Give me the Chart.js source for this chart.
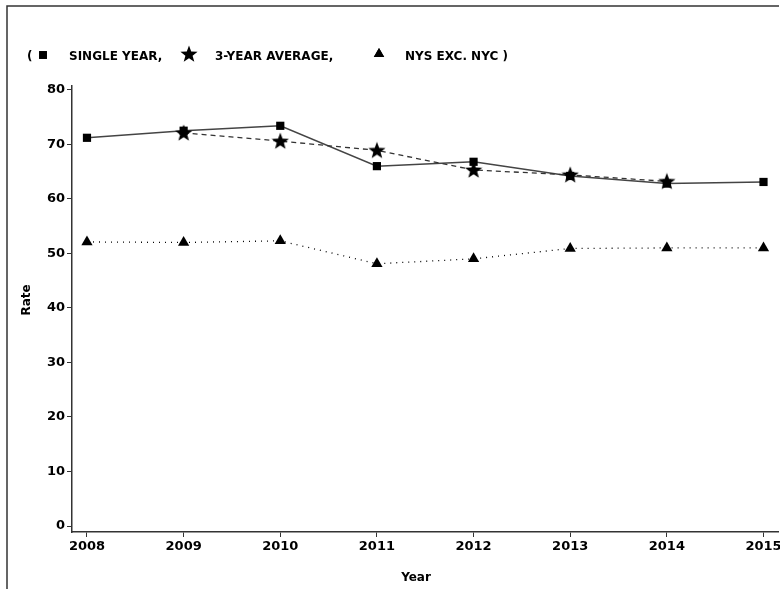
<!DOCTYPE html>
<html>
<head>
<meta charset="utf-8">
<script src="https://cdn.jsdelivr.net/npm/chart.js@4"></script>
<style>
    html, body { margin: 0; padding: 0; background: #fff; }
    #wrap { position: relative; width: 780px; height: 589px; }
</style>
</head>
<body>
<div id="wrap"><canvas id="rateChart" width="780" height="589"></canvas></div>
<script>
const years = [2008, 2009, 2010, 2011, 2012, 2013, 2014, 2015];
const singleYear = [71.2, 72.5, 73.4, 66.0, 66.8, 64.2, 62.8, 63.1];
const threeYearAvg = [null, 72.1, 70.6, 68.9, 65.3, 64.4, 63.2, null];
const nysExcNyc = [52.1, 52.0, 52.3, 48.1, 49.0, 50.9, 51.0, 51.0];
const yTicks = [0, 10, 20, 30, 40, 50, 60, 70, 80];

const legendItems = ["SINGLE YEAR,", "3-YEAR AVERAGE,", "NYS EXC. NYC )"];

// filled five point star, Chart.js "star" is only a stroked asterisk
function makeStar(size) {
    const c = document.createElement("canvas");
    c.width = size;
    c.height = size;
    const g = c.getContext("2d");
    const cx = size / 2, cy = size / 2 + 0.5;
    const outer = size / 2, inner = outer * 0.42;
    g.beginPath();
    for (let i = 0; i < 10; i++) {
        const r = i % 2 === 0 ? outer : inner;
        const a = -Math.PI / 2 + i * Math.PI / 5;
        const px = cx + r * Math.cos(a), py = cy + r * Math.sin(a);
        if (i === 0) g.moveTo(px, py); else g.lineTo(px, py);
    }
    g.closePath();
    g.fillStyle = "#000";
    g.fill();
    return c;
}
const starImg = makeStar(18);

const toPoints = arr => years.map((y, i) => ({ x: y, y: arr[i] }));

const framePlugin = {
    id: "frame",
    beforeDraw(chart) {
        const ctx = chart.ctx;
        ctx.save();
        ctx.fillStyle = "#fff";
        ctx.fillRect(0, 0, chart.width, chart.height);
        ctx.strokeStyle = "#333";
        ctx.lineWidth = 1.5;
        ctx.beginPath();
        ctx.moveTo(7, 589);
        ctx.lineTo(7, 6);
        ctx.lineTo(779, 6);
        ctx.stroke();
        ctx.restore();
    },
    afterDraw(chart) {
        const ctx = chart.ctx;
        ctx.save();
        ctx.fillStyle = "#000";
        ctx.textBaseline = "middle";

        // legend line
        const ly = 57;
        ctx.font = "bold 12px 'DejaVu Sans'";
        ctx.textAlign = "left";
        ctx.fillText("(", 27, ly);
        ctx.beginPath();
        Chart.helpers.drawPoint(ctx, { pointStyle: "rect", radius: 5.5, rotation: 0 }, 43, ly - 2);
        ctx.fill();
        ctx.fillText(legendItems[0], 69, ly);
        ctx.drawImage(starImg, 180, ly - 12);
        ctx.fillText(legendItems[1], 215, ly);
        ctx.beginPath();
        Chart.helpers.drawPoint(ctx, { pointStyle: "triangle", radius: 6, rotation: 0 }, 379, ly - 3);
        ctx.fill();
        ctx.fillText(legendItems[2], 405, ly);

        // axis titles
        ctx.font = "bold 12px 'DejaVu Sans'";
        ctx.textAlign = "center";
        ctx.fillText("Year", 416, 578);
        ctx.translate(27, 300);
        ctx.rotate(-Math.PI / 2);
        ctx.fillText("Rate", 0, 0);
        ctx.restore();
    }
};

new Chart(document.getElementById("rateChart").getContext("2d"), {
    type: "line",
    data: {
        datasets: [
            {
                label: "3-YEAR AVERAGE",
                data: toPoints(threeYearAvg),
                borderColor: "#333",
                borderWidth: 1.3,
                borderDash: [5, 4],
                pointStyle: starImg,
                pointRadius: 8,
                spanGaps: false,
                order: 1
            },
            {
                label: "SINGLE YEAR",
                data: toPoints(singleYear),
                borderColor: "#444",
                borderWidth: 1.5,
                pointStyle: "rect",
                pointRadius: 5.8,
                pointBackgroundColor: "#000",
                pointBorderColor: "#000",
                pointBorderWidth: 0,
                order: 2
            },
            {
                label: "NYS EXC. NYC",
                data: toPoints(nysExcNyc),
                borderColor: "#000",
                borderWidth: 1.3,
                borderDash: [1, 5],
                pointStyle: "triangle",
                pointRadius: 6.5,
                pointBackgroundColor: "#000",
                pointBorderColor: "#000",
                pointBorderWidth: 0,
                order: 3
            }
        ]
    },
    options: {
        responsive: false,
        animation: false,
        layout: { autoPadding: false, padding: { top: 86, right: 2, left: 0, bottom: 0 } },
        plugins: {
            legend: { display: false },
            tooltip: { enabled: false }
        },
        scales: {
            x: {
                type: "linear",
                min: 2007.845,
                max: 2015.15,
                afterFit: s => { s.height = 57; s.paddingLeft = 0; s.paddingRight = 0; },
                afterBuildTicks: s => { s.ticks = years.map(v => ({ value: v })); },
                ticks: {
                    color: "#000",
                    font: { family: "'DejaVu Sans'", size: 13, weight: "bold" },
                    padding: 2,
                    maxRotation: 0,
                    callback: v => String(v)
                },
                grid: { drawOnChartArea: false, color: "#333", tickLength: 5, tickColor: "#333" },
                border: { color: "#333", width: 1.5 }
            },
            y: {
                min: -1.1,
                max: 80.7,
                afterFit: s => { s.width = 72; s.paddingTop = 0; s.paddingBottom = 0; },
                afterBuildTicks: s => { s.ticks = yTicks.map(v => ({ value: v })); },
                ticks: {
                    color: "#000",
                    font: { family: "'DejaVu Sans'", size: 13, weight: "bold" },
                    padding: 2
                },
                grid: { drawOnChartArea: false, color: "#333", tickLength: 5, tickColor: "#333" },
                border: { color: "#333", width: 1.5 }
            }
        }
    },
    plugins: [framePlugin]
});
</script>
</body>
</html>
